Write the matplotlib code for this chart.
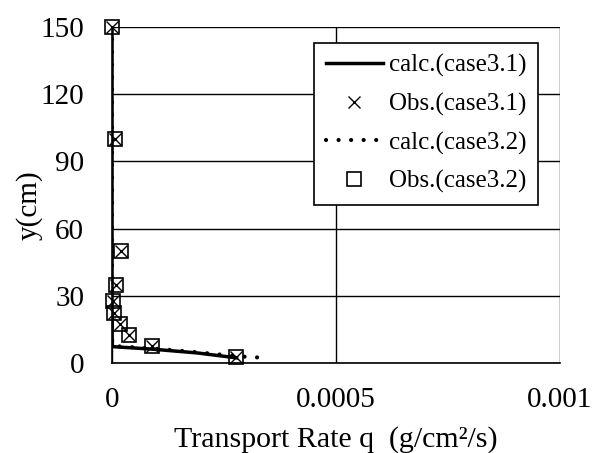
import matplotlib
matplotlib.use("Agg")
import matplotlib.pyplot as plt

plt.rcParams['font.family'] = ['Liberation Serif', 'DejaVu Serif']

# observed profiles (case3.1 and case3.2 share the measuring heights)
obs_y = [150, 100, 50, 35, 27.5, 22.5, 17.5, 12.5, 7.5, 2.5]
obs31_q = [0.0, 0.000007, 0.000019, 0.000008, 0.000003, 0.000004, 0.000018, 0.000039, 0.000089, 0.000277]
obs32_q = [0.0, 0.000007, 0.000019, 0.000008, 0.000003, 0.000004, 0.000018, 0.000039, 0.000089, 0.000277]

# calculated profiles
calc31_y = [150, 100, 50, 20, 10, 7.3, 6.2, 4.5, 2.3]
calc31_q = [0.0, 0.0, 0.0, 0.0, 0.0000005, 0.000001, 0.000089, 0.00019, 0.000278]
calc32_y = [150, 100, 50, 20, 10, 7.6, 6.5, 5.0, 3.0, 2.5]
calc32_q = [0.0, 0.0, 0.0, 0.0, 0.0000005, 0.000001, 0.00009, 0.00018, 0.00028, 0.000324]

fig = plt.figure(figsize=(5.99, 4.53), dpi=100)
ax = fig.add_axes([112/599, 1 - 363/453, 448/599, 336/453])

ax.plot(calc31_q, calc31_y, '-', color='black', linewidth=2.5, label='calc.(case3.1)')
ax.plot(obs31_q, obs_y, 'x', color='black', markersize=8, markeredgewidth=1.0,
        linestyle='none', clip_on=False, label='Obs.(case3.1)')
ax.plot(calc32_q, calc32_y, color='black', linewidth=3, linestyle=(0, (0.01, 3.0)),
        dash_capstyle='round', label='calc.(case3.2)')
ax.plot(obs32_q, obs_y, 's', markerfacecolor='none', markeredgecolor='black',
        markersize=10, markeredgewidth=1.2, linestyle='none', clip_on=False,
        label='Obs.(case3.2)')

ax.set_xlim(0, 0.001)
ax.set_ylim(0, 150)
ax.set_xticks([0, 0.0005, 0.001])
ax.set_xticklabels(['0', '0.0005', '0.001'])
ax.set_yticks([0, 30, 60, 90, 120, 150])
ax.grid(True, color='black', linewidth=1.0)
ax.set_axisbelow(True)
for s in ['top', 'right']:
    ax.spines[s].set_visible(False)
for s in ['left', 'bottom']:
    ax.spines[s].set_linewidth(1.2)
ax.tick_params(axis='both', length=0, labelsize=21)
ax.tick_params(axis='y', pad=20)
ax.tick_params(axis='x', pad=17)

ax.set_xlabel('Transport Rate q  (g/cm²/s)', fontsize=21.5, labelpad=10)
ax.set_ylabel('y(cm)', fontsize=21)
ax.yaxis.set_label_coords(-0.155, 0.47)

leg = ax.legend(loc='upper right', bbox_to_anchor=(0.951, 0.952), fontsize=18,
                frameon=True, fancybox=False, edgecolor='black', framealpha=1,
                handlelength=2.3, handletextpad=0.25, borderpad=0.45, labelspacing=0.62,
                borderaxespad=0)
leg.get_frame().set_linewidth(1.2)

fig.savefig('out.png', dpi=100)
